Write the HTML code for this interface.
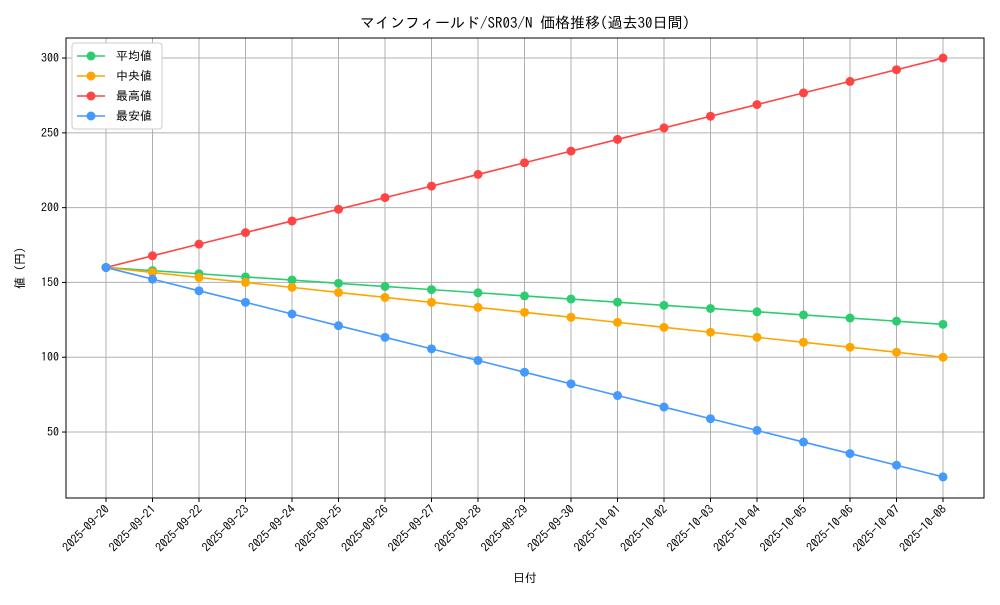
<!DOCTYPE html>
<html><head><meta charset="utf-8">
<style>
body{margin:0;background:#fff;}
svg text{font-family:"IPAGothic","Liberation Sans","Noto Sans CJK JP",sans-serif;fill:#000;}
</style></head>
<body>
<svg id="chart" width="1000" height="600" viewBox="0 0 1000 600" xmlns="http://www.w3.org/2000/svg">
<rect width="1000" height="600" fill="#fff"/>
<text x="525" y="28" font-size="15" text-anchor="middle">マインフィールド/SR03/N 価格推移(過去30日間)</text>
<g id="grid"></g>
<g id="series"></g>
<rect x="66" y="38" width="918" height="460" fill="none" stroke="#000" stroke-width="1"/>
<g id="axes"></g>
<text x="525" y="582" font-size="12" text-anchor="middle">日付</text>
<text x="24" y="268" font-size="12" text-anchor="middle" transform="rotate(-90 24 268)">値 (円)</text>
<g id="legend"></g>
</svg>
<script>
const dates=["2025-09-20","2025-09-21","2025-09-22","2025-09-23","2025-09-24","2025-09-25","2025-09-26","2025-09-27","2025-09-28","2025-09-29","2025-09-30","2025-10-01","2025-10-02","2025-10-03","2025-10-04","2025-10-05","2025-10-06","2025-10-07","2025-10-08"];
const avgValues=[160,157.9,155.8,153.7,151.6,149.4,147.3,145.2,143.1,141,138.9,136.8,134.7,132.6,130.4,128.3,126.2,124.1,122];
const medianValues=[160,156.7,153.3,150,146.7,143.3,140,136.7,133.3,130,126.7,123.3,120,116.7,113.3,110,106.7,103.3,100];
const maxValues=[160,167.8,175.6,183.3,191.1,198.9,206.7,214.4,222.2,230,237.8,245.6,253.3,261.1,268.9,276.7,284.4,292.2,300];
const minValues=[160,152.2,144.4,136.7,128.9,121.1,113.3,105.6,97.8,90,82.2,74.4,66.7,58.9,51.1,43.3,35.6,27.8,20];
const yTicks=[50,100,150,200,250,300];
const seriesNames=["平均値","中央値","最高値","最安値"];
const seriesColors=["#2ecc71","#ffa500","#ff4444","#4499ff"];

const NS="http://www.w3.org/2000/svg";
const yMin=5.9,yMax=313.4,plotTop=38,plotBottom=498;
function xs(i){return 106+i*(943-106)/(dates.length-1);}
function ys(v){return plotBottom-(v-yMin)/(yMax-yMin)*(plotBottom-plotTop);}
function mk(tag,attrs,parent){const e=document.createElementNS(NS,tag);for(const k in attrs)e.setAttribute(k,attrs[k]);parent.appendChild(e);return e;}
const grid=document.getElementById('grid'),axes=document.getElementById('axes'),ser=document.getElementById('series'),leg=document.getElementById('legend');
dates.forEach((d,i)=>{
  const x=xs(i);
  const g=mk('line',{x1:x,x2:x,y1:plotTop,y2:plotBottom,stroke:'#b0b0b0','stroke-width':1},grid);
  
  
  mk('line',{x1:x,x2:x,y1:plotBottom,y2:plotBottom+4,stroke:'#000'},axes);
  const t=mk('text',{x:x+4,y:plotBottom+12,'font-size':12,'text-anchor':'end',transform:`rotate(-45 ${x+4} ${plotBottom+12})`},axes);
  t.textContent=d;
  
  
});
yTicks.forEach(v=>{
  const y=ys(v);
  const g=mk('line',{x1:66,x2:984,y1:y,y2:y,stroke:'#b0b0b0','stroke-width':1},grid);
  
  
  mk('line',{x1:62,x2:66,y1:y,y2:y,stroke:'#000'},axes);
  const t=mk('text',{x:59,y:y+4,'font-size':12,'text-anchor':'end'},axes);
  t.textContent=v;
  
  
});
[avgValues,medianValues,maxValues,minValues].forEach((vals,s)=>{
  const c=seriesColors[s];
  const p=mk('polyline',{points:vals.map((v,i)=>xs(i)+','+ys(v)).join(' '),fill:'none',stroke:c,'stroke-width':1.6},ser);
  
  
  vals.forEach((v,i)=>{
    const m=mk('circle',{cx:xs(i),cy:ys(v),r:4.5,fill:c},ser);
    
    
  });
});
const lb=mk('rect',{x:72,y:43,width:90,height:86,fill:'#fff',stroke:'#ccc',rx:3},leg);


seriesNames.forEach((n,s)=>{
  const y=56+s*20;
  const g=mk('g',{},leg);
  
  
  mk('line',{x1:77,x2:105,y1:y,y2:y,stroke:seriesColors[s],'stroke-width':1.6},g);
  mk('circle',{cx:91,cy:y,r:4.5,fill:seriesColors[s]},g);
  const t=mk('text',{x:116,y:y+4,'font-size':12},g);
  t.textContent=n;
});
</script>
</body></html>
